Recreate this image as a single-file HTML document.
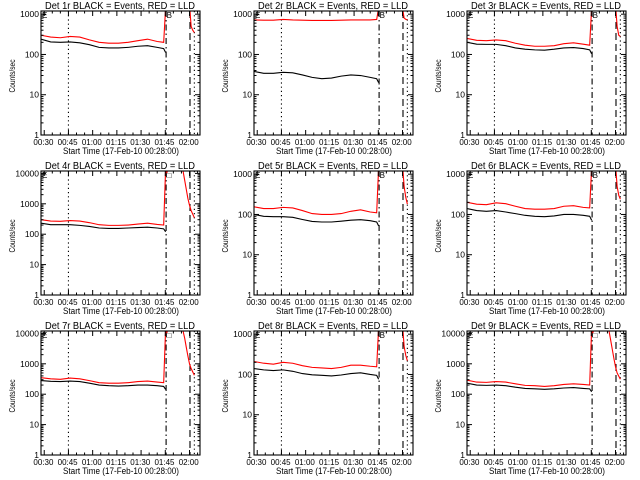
<!DOCTYPE html>
<html><head><meta charset="utf-8"><style>
html,body{margin:0;padding:0;background:#fff;}
svg{display:block;font-family:"Liberation Sans",sans-serif;}
</style></head><body>
<svg id="c" width="640" height="480" viewBox="0 0 640 480"></svg>
<script>
const times = [28,34,40,46,52,58,64,70,76,82,88,94,100,104];
const black1 = [240,205,200,205,195,175,150,145,145,150,160,165,150,140];
const red1 = [300,270,260,280,270,230,200,190,190,200,220,240,210,200];
const black2 = [38,34,34,36,35,31,27,25,26,29,31,30,27,25];
const red2 = [720,710,710,740,720,710,700,700,700,710,720,720,720,740];
const black3 = [200,180,178,178,165,145,135,130,128,135,145,148,140,130];
const red3 = [250,225,220,230,220,190,170,160,160,165,185,195,180,170];
const black4 = [230,205,205,205,195,180,160,155,155,160,165,170,160,150];
const red4 = [300,270,265,280,270,240,205,195,195,200,215,230,210,200];
const black5 = [100,90,88,88,85,75,67,65,65,68,72,74,70,65];
const red5 = [155,140,140,150,145,125,105,100,100,105,120,130,115,110];
const black6 = [140,125,120,125,115,105,95,90,88,92,100,100,95,90];
const red6 = [200,180,175,195,185,160,140,135,135,140,160,165,150,145];
const black7 = [280,265,260,270,260,230,200,190,185,190,200,200,190,180];
const red7 = [350,320,310,340,320,280,240,230,230,240,260,270,250,240];
const black8 = [140,130,125,130,120,105,98,95,92,97,105,110,100,95];
const red8 = [210,190,180,200,190,165,150,145,140,150,170,170,160,155];
const black9 = [230,200,195,200,190,170,155,150,145,150,160,165,155,150];
const red9 = [290,250,245,260,250,220,195,190,180,190,210,220,210,200];
// post-event red decay: times and values
const postT3 = [120.3,121,122,123];
const postT4 = [116,117,118,119,120,121,123];
const post1 = [1200,500,400,350];
const post2 = [1200,800,750,720];
const post3 = [1200,500,300,280];
const post4 = [12000,6000,3000,1500,900,600,350];
const post5 = [1200,500,270,180];
const post6 = [1200,500,300,240];
const post7 = [12000,7000,3500,1800,1000,700,420];
const post8 = [1200,500,300,220];
const post9 = [12000,6000,3000,1500,800,500,310];
const yMaxes = [1200,1200,1200,12000,1200,1200,12000,1200,12000];
const xTickLabels = ["00:30","00:45","01:00","01:15","01:30","01:45","02:00"];
const xTickMin = [30,45,60,75,90,105,120];

const blacks=[black1,black2,black3,black4,black5,black6,black7,black8,black9];
const reds=[red1,red2,red3,red4,red5,red6,red7,red8,red9];
const posts=[post1,post2,post3,post4,post5,post6,post7,post8,post9];
const NS="http://www.w3.org/2000/svg";
const svg=document.getElementById('c');
function mk(tag,attrs,parent){const e=document.createElementNS(NS,tag);for(const k in attrs)e.setAttribute(k,attrs[k]);(parent||svg).appendChild(e);return e;}
const OX=[41,254,467],OY=[11,171,331],W=159,H=124,T0=28,T1=126.5;
for(let p=0;p<9;p++){
  const ox=OX[p%3],oy=OY[Math.floor(p/3)],ymax=yMaxes[p];
  const g=mk('g',{});
  
  
  const clipId='cl'+p;
  const cp=mk('clipPath',{id:clipId},g);mk('rect',{x:ox,y:oy,width:W,height:H},cp);
  const X=t=>ox+(t-T0)/(T1-T0)*W;
  const Y=v=>oy+H-Math.log10(Math.max(v,1))/Math.log10(ymax)*H;
  const vl=(t,dash,name)=>{const l=mk('line',{x1:X(t),x2:X(t),y1:oy,y2:oy+H,stroke:'#000','stroke-width':1.1,'stroke-dasharray':dash},g);};
  vl(45,'1.2,3','marker-0045');vl(105.5,'6,3,1.5,3','marker-event');vl(120.3,'7,4','marker-dashed');vl(123,'1.2,3','marker-dotted');
  const dg=mk('g',{'clip-path':'url(#'+clipId+')'},g);
  let bp=times.map((t,i)=>X(t)+','+Y(blacks[p][i])).join(' ');
  bp+=' '+X(105.2)+','+Y(blacks[p][13]*0.8);
  const bl=mk('polyline',{points:bp,fill:'none',stroke:'#000','stroke-width':1.1},dg);
  
  let rp=times.map((t,i)=>X(t)+','+Y(reds[p][i])).join(' ');
  rp+=' '+X(105.2)+','+Y(ymax*1.2);
  const rl=mk('polyline',{points:rp,fill:'none',stroke:'#f00','stroke-width':1.1},dg);
  
  const pt=posts[p].length===4?postT3:postT4;
  let pp=pt.map((t,i)=>X(t)+','+Y(posts[p][i])).join(' ');
  if(ymax>2000){pp=X(105.6)+','+Y(ymax*1.2)+' '+X(105.9)+','+Y(ymax*0.85)+' '+X(106.3)+','+Y(ymax)+' '+pp;}
  const pl=mk('polyline',{points:pp,fill:'none',stroke:'#f00','stroke-width':1.1},dg);
  
  const fr=mk('rect',{x:ox,y:oy,width:W,height:H,fill:'none',stroke:'#000','stroke-width':1.1},g);
  
  const nd=Math.round(Math.log10(ymax/1.2));
  for(let d=0;d<=nd;d++){
    for(let m=1;m<10;m++){
      const v=m*Math.pow(10,d);if(v>ymax)break;
      const y=Y(v),len=m===1?5:2.5;
      mk('line',{x1:ox,x2:ox+len,y1:y,y2:y,stroke:'#000'},g);
      mk('line',{x1:ox+W,x2:ox+W-len,y1:y,y2:y,stroke:'#000'},g);
      if(m===1){const tx=mk('text',{x:ox-2,y:y+3,'font-size':8.5,'text-anchor':'end'},g);tx.textContent=String(v);
        }
    }
  }
  for(let t=30;t<=125;t+=5){const major=(t%15===0),len=major?5:2.5;
    mk('line',{x1:X(t),x2:X(t),y1:oy+H,y2:oy+H-len,stroke:'#000'},g);
    mk('line',{x1:X(t),x2:X(t),y1:oy,y2:oy+len,stroke:'#000'},g);}
  xTickLabels.forEach((s,i)=>{const tx=mk('text',{x:X(xTickMin[i]-0.5),y:oy+H+10,'font-size':8,'text-anchor':'middle',textLength:20,lengthAdjust:'spacingAndGlyphs'},g);tx.textContent=s;
    });
  const ti=mk('text',{x:ox+79,y:oy-2,'font-size':10,'text-anchor':'middle',textLength:150,lengthAdjust:'spacingAndGlyphs'},g);
  ti.textContent='Det '+(p+1)+'r BLACK = Events, RED = LLD';
  
  const xt=mk('text',{x:ox+80,y:oy+H+19,'font-size':9,'text-anchor':'middle',textLength:116,lengthAdjust:'spacingAndGlyphs'},g);
  xt.textContent='Start Time (17-Feb-10 00:28:00)';
  
  const yx=ox-26,yy=oy+65;
  const yt=mk('text',{x:yx,y:yy,'font-size':8,'text-anchor':'middle',transform:'rotate(-90 '+yx+' '+yy+')',textLength:33,lengthAdjust:'spacingAndGlyphs'},g);
  yt.textContent='Counts/sec';
  
  const e1=mk('text',{x:ox+1,y:oy+7,'font-size':8},g);e1.textContent='E';
  
  const e2=mk('text',{x:X(105.8),y:oy+7,'font-size':8},g);e2.textContent=ymax>2000?'□':'B';
  
}
</script>
</body></html>
